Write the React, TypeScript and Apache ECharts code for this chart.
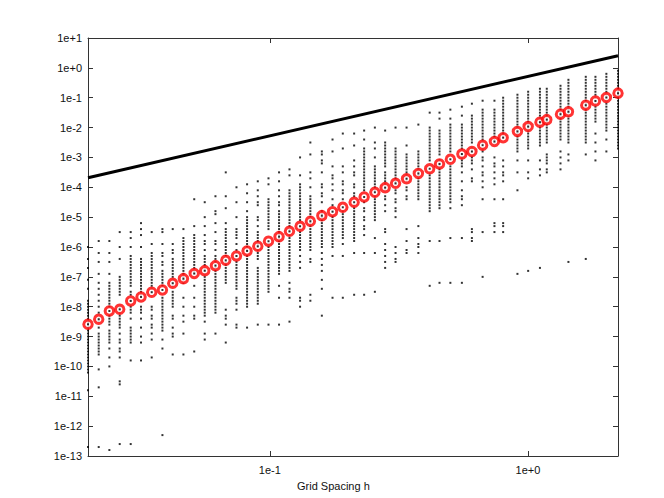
import React, { useEffect, useRef } from "react";
import * as echarts from "echarts";

// Grid spacing h of each refinement level (x)
const gridSpacing = [
  0.01976, 0.02174, 0.02391, 0.02622, 0.02892, 0.03171, 0.03488, 0.03838, 0.04207, 0.04628,
  0.05097, 0.05597, 0.06159, 0.06752, 0.07429, 0.08166, 0.08984, 0.09885, 0.1086, 0.1192,
  0.131, 0.1436, 0.1591, 0.175, 0.1918, 0.2122, 0.232, 0.2553, 0.2798, 0.307,
  0.3387, 0.3763, 0.4163, 0.4544, 0.5006, 0.5548, 0.6066, 0.6675, 0.7418, 0.8016,
  0.9106, 1.002, 1.113, 1.183, 1.337, 1.435, 1.675, 1.826, 2.013, 2.233,
];

// Mean error at each h (red circles)
const meanError = [
  2.58e-9, 3.79e-9, 7.19e-9, 8.2e-9, 1.56e-8, 2.12e-8, 3.05e-8, 3.64e-8, 6.1e-8, 8.69e-8,
  1.3e-7, 1.61e-7, 2.37e-7, 3.59e-7, 5.0e-7, 7.36e-7, 1.06e-6, 1.56e-6, 2.22e-6, 3.36e-6,
  4.94e-6, 7.26e-6, 1.12e-5, 1.52e-5, 2.14e-5, 3.15e-5, 4.73e-5, 6.81e-5, 9.7e-5, 1.36e-4,
  1.93e-4, 2.9e-4, 4.17e-4, 6.03e-4, 8.67e-4, 1.3e-3, 1.58e-3, 2.57e-3, 3.42e-3, 4.58e-3,
  7.4e-3, 1.08e-2, 1.51e-2, 1.84e-2, 2.81e-2, 3.4e-2, 5.62e-2, 7.76e-2, 0.102, 0.142,
];

// Individual errors per h, as log10(error) in tenths of a decade (black dots)
const sampleErrorExp10: number[][] = [
  [-60,-64,-67,-71,-74,-78,-79,-80,-81,-82,-83,-84,-85,-86,-87,-88,-89,-90,-91,-92,-93,-94,-95,-96,-97,-98,-99,-100,-101,-102,-108,-127],
  [-58,-62,-65,-69,-72,-74,-76,-78,-80,-82,-84,-85,-87,-89,-90,-91,-92,-93,-94,-95,-96,-101,-107,-127],
  [-58,-62,-65,-69,-72,-73,-74,-75,-76,-77,-78,-79,-80,-83,-84,-85,-86,-88,-89,-90,-91,-92,-94,-97,-100,-128],
  [-55,-60,-64,-70,-71,-72,-73,-74,-75,-76,-80,-81,-82,-83,-84,-85,-86,-87,-89,-91,-92,-94,-95,-97,-105,-106,-126],
  [-55,-57,-60,-63,-64,-65,-66,-67,-68,-69,-70,-71,-72,-73,-75,-76,-78,-80,-81,-82,-84,-87,-88,-89,-90,-91,-92,-98,-126],
  [-52,-54,-56,-60,-64,-65,-66,-67,-68,-69,-70,-71,-72,-73,-74,-75,-76,-80,-81,-82,-84,-87,-90,-92,-98],
  [-55,-59,-62,-63,-64,-65,-66,-67,-68,-69,-70,-71,-72,-73,-74,-75,-80,-81,-83,-84,-86,-87,-89,-91,-97],
  [-54,-55,-59,-62,-63,-65,-66,-68,-69,-70,-71,-72,-73,-77,-78,-79,-80,-81,-82,-83,-84,-85,-86,-87,-88,-91,-94,-123],
  [-54,-59,-61,-62,-64,-65,-66,-67,-68,-69,-70,-71,-72,-73,-75,-76,-77,-78,-79,-80,-83,-84,-87,-89,-90,-96],
  [-54,-57,-58,-59,-60,-61,-62,-63,-64,-65,-66,-67,-68,-69,-70,-71,-72,-77,-80,-83,-85,-89,-96],
  [-44,-53,-56,-57,-58,-59,-60,-61,-62,-63,-64,-65,-66,-67,-68,-69,-73,-77,-80,-83,-84,-95],
  [-45,-50,-53,-56,-58,-59,-61,-63,-64,-65,-66,-67,-68,-69,-70,-71,-72,-73,-74,-75,-76,-77,-78,-79,-80,-81,-82,-83,-85,-89,-91],
  [-43,-48,-49,-52,-55,-58,-59,-61,-63,-64,-65,-66,-67,-68,-69,-70,-71,-72,-73,-74,-75,-76,-77,-78,-79,-80,-81,-82,-89],
  [-35,-43,-47,-52,-54,-55,-56,-57,-58,-59,-60,-61,-62,-63,-65,-66,-67,-68,-69,-70,-71,-72,-81,-83,-84,-86,-92],
  [-40,-45,-50,-54,-55,-56,-57,-59,-61,-62,-63,-64,-65,-66,-67,-68,-69,-70,-71,-72,-73,-74,-77,-78,-79,-81,-86,-87],
  [-39,-42,-45,-48,-50,-51,-52,-53,-54,-55,-56,-57,-58,-59,-60,-61,-63,-64,-65,-66,-67,-68,-69,-70,-71,-72,-73,-74,-75,-76,-77,-78,-79,-80,-87],
  [-38,-41,-43,-45,-46,-50,-51,-53,-55,-56,-57,-58,-59,-60,-61,-62,-63,-64,-67,-68,-69,-70,-71,-72,-73,-74,-75,-76,-77,-78,-79,-86],
  [-37,-39,-44,-45,-46,-47,-48,-49,-50,-51,-52,-53,-54,-59,-60,-61,-62,-63,-64,-65,-66,-67,-68,-69,-70,-71,-72,-73,-74,-75,-86],
  [-35,-38,-41,-43,-45,-46,-48,-49,-50,-51,-52,-53,-54,-55,-56,-57,-58,-59,-60,-61,-62,-63,-64,-65,-66,-67,-68,-69,-73,-77,-86],
  [-34,-36,-41,-42,-43,-44,-45,-46,-47,-48,-49,-50,-51,-52,-53,-54,-55,-56,-57,-58,-59,-60,-61,-62,-63,-64,-65,-66,-67,-68,-72,-74,-75,-77,-85],
  [-30,-36,-39,-40,-41,-42,-43,-44,-45,-46,-47,-48,-49,-50,-51,-52,-53,-54,-55,-56,-57,-58,-59,-60,-61,-63,-65,-67,-77,-78,-80],
  [-25,-29,-35,-37,-40,-43,-44,-45,-46,-47,-48,-49,-50,-51,-52,-53,-54,-55,-56,-57,-58,-59,-60,-61,-64,-65,-76,-78],
  [-28,-29,-31,-32,-35,-39,-40,-42,-43,-45,-48,-49,-50,-51,-52,-53,-54,-55,-56,-57,-58,-59,-60,-62,-64,-66,-68,-71,-74,-83],
  [-24,-28,-33,-36,-37,-39,-41,-44,-46,-48,-50,-51,-52,-53,-54,-55,-56,-57,-58,-59,-60,-63,-77],
  [-22,-27,-33,-35,-38,-39,-41,-42,-44,-48,-49,-50,-51,-52,-53,-54,-55,-56,-57,-59,-63,-77],
  [-22,-26,-31,-33,-35,-36,-39,-40,-42,-43,-46,-47,-48,-49,-50,-51,-52,-53,-54,-55,-56,-57,-58,-62,-76],
  [-21,-24,-27,-28,-29,-30,-31,-32,-33,-34,-35,-36,-37,-38,-39,-40,-41,-45,-47,-48,-50,-51,-53,-54,-56,-62,-76],
  [-20,-25,-27,-30,-33,-34,-35,-36,-37,-38,-39,-40,-41,-43,-44,-45,-46,-47,-48,-49,-50,-51,-57,-62,-75],
  [-21,-25,-26,-27,-28,-29,-30,-31,-32,-33,-35,-36,-37,-38,-39,-40,-41,-43,-44,-46,-48,-54,-55,-59,-61,-63,-65,-67],
  [-20,-27,-28,-29,-30,-31,-32,-33,-34,-35,-36,-37,-38,-39,-41,-42,-44,-45,-47,-48,-50,-60,-62,-64,-65],
  [-20,-26,-29,-30,-31,-32,-33,-34,-35,-36,-37,-38,-40,-41,-43,-44,-54,-58,-61,-62],
  [-19,-28,-29,-30,-31,-32,-33,-34,-35,-36,-37,-38,-39,-40,-41,-42,-43,-44,-53,-57,-59,-60,-62],
  [-15,-20,-21,-22,-23,-24,-25,-26,-27,-28,-29,-30,-31,-35,-36,-37,-38,-39,-40,-41,-42,-43,-44,-45,-46,-47,-48,-58,-73],
  [-15,-17,-21,-22,-23,-24,-25,-26,-27,-28,-29,-31,-32,-33,-34,-35,-36,-37,-38,-39,-40,-41,-42,-43,-44,-45,-46,-47,-58,-72],
  [-14,-17,-19,-20,-21,-22,-23,-24,-25,-26,-27,-28,-33,-34,-35,-36,-37,-38,-39,-40,-41,-42,-43,-44,-45,-47,-57,-72],
  [-13,-16,-19,-20,-21,-22,-23,-24,-25,-26,-27,-29,-30,-31,-32,-33,-35,-38,-41,-43,-44,-46,-57,-72],
  [-12,-16,-17,-18,-19,-20,-21,-22,-23,-24,-25,-27,-28,-30,-31,-32,-34,-37,-38,-54,-55,-57,-58],
  [-11,-14,-15,-16,-17,-18,-19,-20,-21,-22,-23,-24,-25,-27,-28,-30,-31,-33,-35,-36,-38,-40,-44,-55,-70],
  [-11,-14,-15,-16,-17,-18,-19,-20,-21,-22,-23,-24,-25,-30,-32,-33,-35,-37,-39,-44,-52,-53,-55],
  [-10,-11,-12,-13,-14,-15,-16,-17,-18,-19,-20,-21,-22,-23,-31,-33,-35,-36,-38,-44,-52,-53,-55],
  [-9,-10,-11,-12,-13,-14,-15,-16,-17,-18,-19,-20,-21,-22,-23,-24,-25,-26,-27,-28,-31,-35,-41,-69],
  [-8,-9,-10,-11,-12,-13,-14,-15,-16,-17,-18,-19,-20,-21,-22,-23,-24,-25,-26,-27,-31,-35,-37,-68],
  [-7,-8,-9,-10,-11,-12,-13,-14,-15,-16,-17,-18,-19,-20,-21,-22,-23,-24,-25,-26,-31,-34,-36,-67],
  [-7,-8,-9,-10,-11,-12,-13,-14,-15,-16,-17,-18,-19,-20,-21,-22,-23,-24,-25,-29,-30,-31,-32,-34,-35],
  [-6,-7,-8,-9,-10,-11,-12,-13,-14,-15,-16,-17,-18,-19,-20,-21,-22,-23,-24,-28,-30,-32,-34],
  [-4,-5,-6,-7,-8,-9,-10,-11,-12,-13,-14,-15,-16,-17,-18,-19,-20,-21,-22,-23,-24,-25,-29,-31,-65],
  [-3,-4,-5,-6,-7,-8,-9,-10,-11,-12,-13,-14,-15,-16,-17,-18,-19,-20,-21,-22,-23,-24,-25,-29,-64],
  [-3,-4,-5,-6,-7,-8,-9,-10,-11,-12,-13,-14,-15,-16,-17,-18,-22,-25,-28,-31],
  [-2,-3,-4,-5,-6,-7,-8,-9,-10,-11,-12,-13,-14,-15,-16,-17,-18,-19,-20,-21,-24,-28],
  [-1,-2,-3,-4,-5,-6,-7,-8,-9,-10,-11,-12,-13,-14,-15,-16,-17,-18,-19,-20,-21,-22,-23,-24,-25,-26,-27],
];

// Reference slope line (end points)
const refLineH = [0.01976, 2.233];
const refLineErr = [2.1e-4, 2.55];

const yMin = 1e-13;
const yMax = 1e1;
const xTitle = "Grid Spacing h";

const FONT = "'Liberation Sans', Arial, Helvetica, sans-serif";

function expLabel(v: number): string {
  const l = Math.log10(v);
  const e = Math.round(l);
  if (Math.abs(l - e) > 1e-6) return "";
  return `1e${e >= 0 ? "+" : ""}${e}`;
}

export default function App() {
  const ref = useRef<HTMLDivElement>(null);
  useEffect(() => {
    if (!ref.current) return;
    const chart = echarts.init(ref.current, null, { renderer: "svg" });

    const dots: number[][] = [];
    sampleErrorExp10.forEach((col, i) => {
      col.forEach((t) => dots.push([gridSpacing[i], Math.pow(10, t / 10)]));
    });
    const circles = gridSpacing.map((h, i) => [h, meanError[i]]);
    const line = refLineH.map((h, i) => [h, refLineErr[i]]);

    const xMin = gridSpacing[0];
    const xMax = gridSpacing[gridSpacing.length - 1];
    const axisColor = "#333";

    const xBase = {
      type: "log" as const,
      logBase: 10,
      min: xMin,
      max: xMax,
      axisLine: { show: true, onZero: false, lineStyle: { color: axisColor, width: 1 } },
      axisTick: { show: true, inside: true, length: 5, lineStyle: { color: axisColor } },
      minorTick: { show: false },
      splitLine: { show: false },
    };
    const yBase = {
      type: "log" as const,
      logBase: 10,
      min: yMin,
      max: yMax,
      splitNumber: 14,
      interval: 1,
      axisLine: { show: true, onZero: false, lineStyle: { color: axisColor, width: 1 } },
      axisTick: { show: true, inside: true, length: 5, interval: 0, lineStyle: { color: axisColor } },
      minorTick: { show: false },
      splitLine: { show: false },
    };

    chart.setOption({
      animation: false,
      backgroundColor: "#fff",
      grid: { left: 88, top: 38, width: 530, height: 418 },
      xAxis: [
        {
          ...xBase,
          position: "bottom",
          axisLabel: {
            formatter: expLabel,
            margin: 8,
            fontSize: 11,
            color: "#111",
            fontFamily: FONT,
            showMinLabel: false,
            showMaxLabel: false,
          },
        },
        { ...xBase, position: "top", axisLabel: { show: false } },
      ],
      yAxis: [
        {
          ...yBase,
          position: "left",
          axisLabel: { formatter: expLabel, interval: 0, margin: 6, fontSize: 11, color: "#111", fontFamily: FONT },
        },
        { ...yBase, position: "right", axisLabel: { show: false } },
      ],
      graphic: [
        {
          type: "text",
          left: 297,
          top: 480,
          style: { text: xTitle, fontSize: 11, fill: "#111", fontFamily: FONT },
        },
      ],
      series: [
        {
          type: "scatter",
          data: dots,
          symbol: "rect",
          symbolSize: 2,
          itemStyle: { color: "#000" },
          silent: true,
          z: 2,
        },
        {
          type: "line",
          data: line,
          symbol: "none",
          lineStyle: { color: "#000", width: 3 },
          silent: true,
          z: 3,
        },
        {
          type: "scatter",
          data: circles,
          symbol: "circle",
          symbolSize: 8.5,
          itemStyle: { color: "#fff", borderColor: "#ff0000", borderWidth: 3 },
          silent: true,
          z: 4,
        },
        {
          type: "scatter",
          data: circles,
          symbol: "rect",
          symbolSize: 2,
          itemStyle: { color: "#000" },
          silent: true,
          z: 5,
        },
      ],
    });
    return () => chart.dispose();
  }, []);
  return (
    <div
      ref={ref}
      style={{ position: "absolute", left: 0, top: 0, width: 664, height: 498, background: "#fff" }}
    />
  );
}
